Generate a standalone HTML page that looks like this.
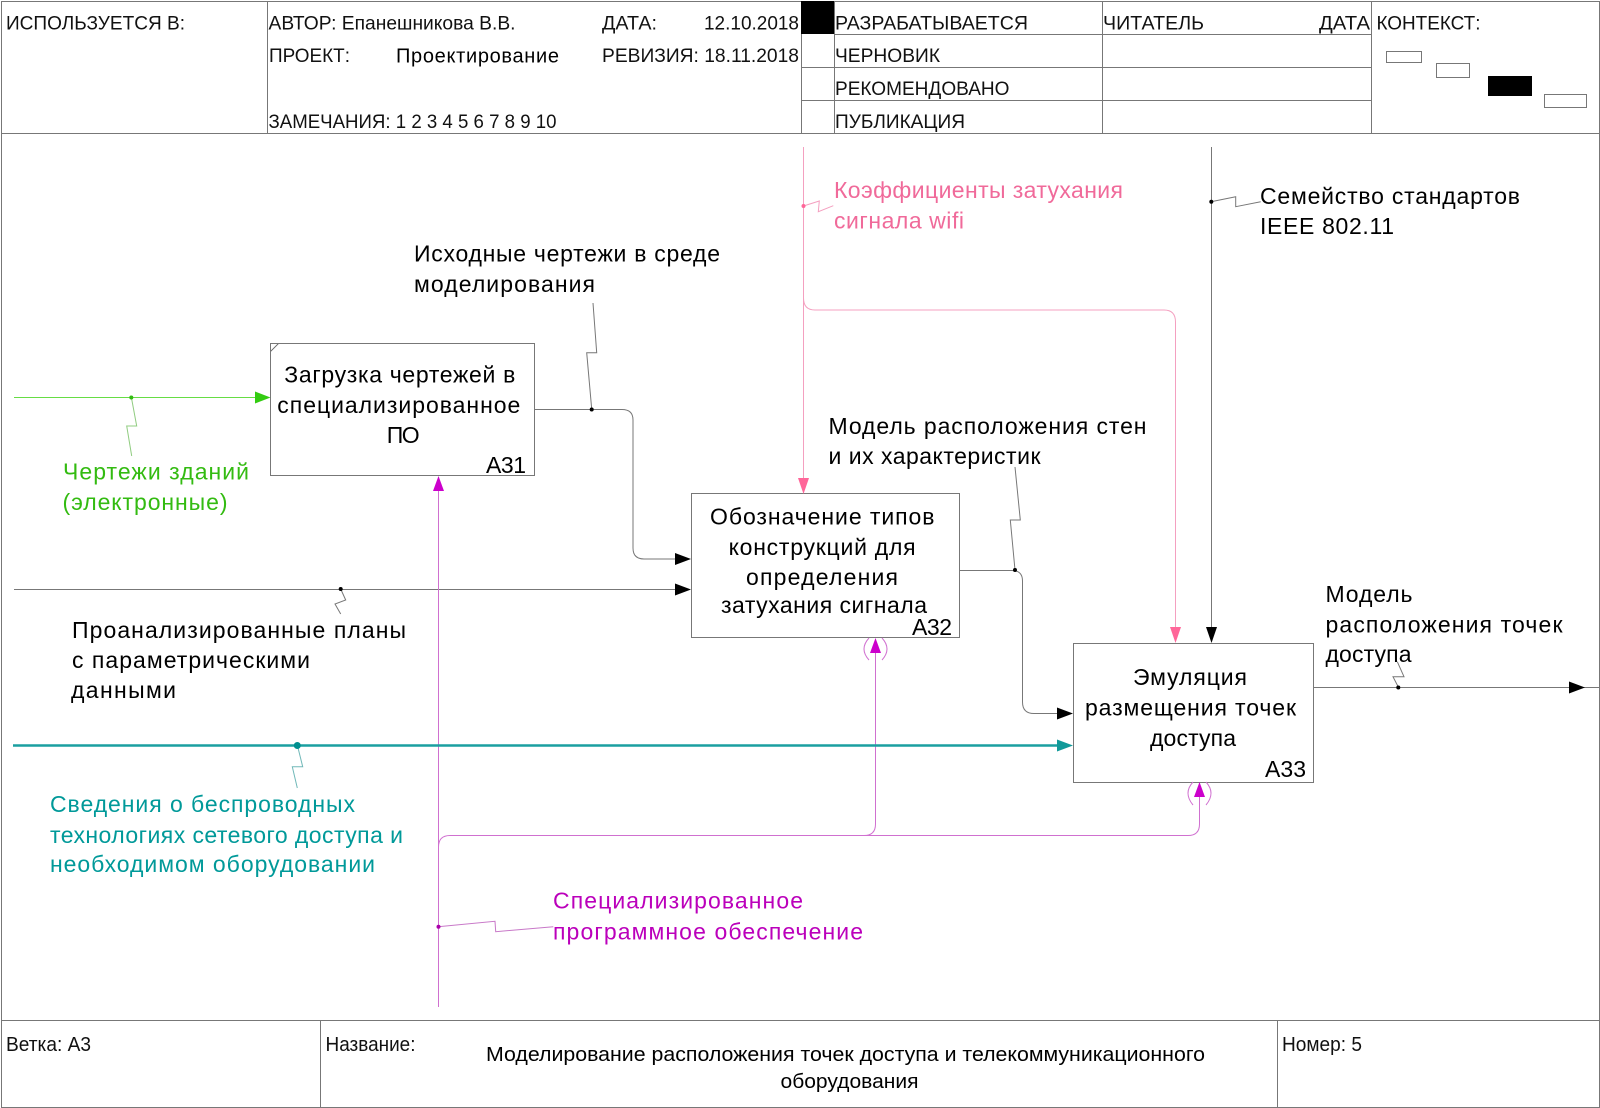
<!DOCTYPE html>
<html><head><meta charset="utf-8"><title>IDEF0 A3</title>
<style>
html,body{margin:0;padding:0;background:#fff;width:1600px;height:1108px;overflow:hidden}
svg{display:block}
text{font-family:"Liberation Sans",Arial,sans-serif;fill:#000}
.h text{font-size:19.5px;fill:#111}
.m text{font-size:23px}
.f text{font-size:20px;fill:#111}
</style></head><body>
<svg width="1600" height="1108" viewBox="0 0 1600 1108" xmlns="http://www.w3.org/2000/svg">
<rect width="1600" height="1108" fill="#fff"/>
<!-- frame -->
<g fill="none" stroke="#777" stroke-width="1" shape-rendering="crispEdges">
<path d="M1.5 1.5H1599.5V1107.5H1.5Z"/>
<path d="M1.5 133.5H1599.5M267.5 1.5V133.5M801.5 1.5V133.5M834.5 1.5V133.5M1102.5 1.5V133.5M1371.5 1.5V133.5"/>
<path d="M834.5 34.5H1371.5M801.5 67.5H1371.5M801.5 100.5H1371.5"/>
<path d="M1.5 1020.5H1599.5M320.5 1020.5V1107.5M1277.5 1020.5V1107.5"/>
<rect x="1386.5" y="51.5" width="35" height="11"/>
<rect x="1436.5" y="63.5" width="33" height="14"/>
<rect x="1544.5" y="94.5" width="42" height="13"/>
<!-- boxes -->
<rect x="270.5" y="343.5" width="264" height="132"/>
<path d="M270.5 351.5L278.5 343.5"/>
<rect x="691.5" y="493.5" width="268" height="144"/>
<rect x="1073.5" y="643.5" width="240" height="139"/>
</g>
<rect x="801" y="1" width="33" height="33" fill="#000"/>
<rect x="1488" y="76" width="44" height="20" fill="#000"/>

<!-- header text -->
<g class="h">
<text x="6" y="29.5" textLength="179" lengthAdjust="spacingAndGlyphs">ИСПОЛЬЗУЕТСЯ В:</text>
<text x="268.5" y="29.5" textLength="247" lengthAdjust="spacingAndGlyphs">АВТОР: Епанешникова В.В.</text>
<text x="602" y="29.5" textLength="55" lengthAdjust="spacingAndGlyphs">ДАТА:</text>
<text x="704" y="29.5" textLength="95" lengthAdjust="spacingAndGlyphs">12.10.2018</text>
<text x="269" y="62" textLength="81" lengthAdjust="spacingAndGlyphs">ПРОЕКТ:</text>
<text x="396" y="62.5" textLength="163" style="fill:#000;font-size:20px">Проектирование</text>
<text x="602" y="62" textLength="197" lengthAdjust="spacingAndGlyphs">РЕВИЗИЯ: 18.11.2018</text>
<text x="268.5" y="128" textLength="288" lengthAdjust="spacingAndGlyphs">ЗАМЕЧАНИЯ: 1 2 3 4 5 6 7 8 9 10</text>
<text x="835" y="29.5" textLength="193" lengthAdjust="spacingAndGlyphs">РАЗРАБАТЫВАЕТСЯ</text>
<text x="1103" y="29.5" textLength="101" lengthAdjust="spacingAndGlyphs">ЧИТАТЕЛЬ</text>
<text x="1319" y="29.5" textLength="51" lengthAdjust="spacingAndGlyphs">ДАТА</text>
<text x="1376.5" y="29.5" textLength="104" lengthAdjust="spacingAndGlyphs">КОНТЕКСТ:</text>
<text x="835" y="62" textLength="105" lengthAdjust="spacingAndGlyphs">ЧЕРНОВИК</text>
<text x="835" y="95" textLength="174.5" lengthAdjust="spacingAndGlyphs">РЕКОМЕНДОВАНО</text>
<text x="835" y="128" textLength="130" lengthAdjust="spacingAndGlyphs">ПУБЛИКАЦИЯ</text>
</g>

<!-- connectors -->
<g fill="none" stroke-width="1">
<!-- green -->
<path d="M14 397.5H256" stroke="#66dd44"/>
<path d="M131.3 397L136.7 426H126.7L131.7 456" stroke="#90cc80"/>
<!-- black input -->
<path d="M14 589.5H676" stroke="#777"/>
<path d="M340.7 589L345.7 600L335 604L340.7 614" stroke="#777"/>
<!-- A31 output -->
<path d="M535 409.5H622Q633 409.5 633 420V548Q633 559 644 559H676" stroke="#777"/>
<path d="M591.7 409L586.7 352.7H596.7L593 303" stroke="#777"/>
<!-- A32 output -->
<path d="M960 570.5H1012Q1022.5 570.5 1022.5 581V702Q1022.5 713.5 1034 713.5H1058" stroke="#777"/>
<path d="M1015 570L1010.3 520H1020.3L1015 467" stroke="#777"/>
<!-- A33 output -->
<path d="M1314 687.5H1599" stroke="#777"/>
<path d="M1398.3 687L1393 676.7H1404L1397.3 661.7" stroke="#777"/>
<!-- black control -->
<path d="M1211.5 147V628" stroke="#777"/>
<path d="M1211 201.7L1235.7 196.7V206.7L1260.7 201.7" stroke="#777"/>
<!-- pink -->
<path d="M803.5 147V479" stroke="#f4a0c0"/>
<path d="M803.5 298Q803.5 310 815 310H1164Q1175.5 310 1175.5 322V628" stroke="#f4a0c0"/>
<path d="M803.5 206L819.3 201L818.3 211.7L833.3 205.7" stroke="#f4a0c0"/>
<!-- magenta -->
<path d="M438.5 490V1007" stroke="#d070d0"/>
<path d="M438.5 847Q438.5 835.5 450 835.5H864Q875.5 835.5 875.5 824V652" stroke="#d070d0"/>
<path d="M864 835.5H1188Q1199.5 835.5 1199.5 824V796" stroke="#d070d0"/>
<path d="M438 926.7L495 921.3L495.7 931.7L553.3 926.7" stroke="#c878c8"/>
<path d="M869 638Q859 649 869 660M882 638Q892 649 882 660" stroke="#d070d0"/>
<path d="M1193 782Q1183 793 1193 805M1206 782Q1216 793 1206 805" stroke="#d070d0"/>
<!-- teal -->
<path d="M13 745.5H1058" stroke="#1a9fa0" stroke-width="2.4"/>
<path d="M297.3 745L302.7 766.7H292.3L297.3 788" stroke="#70b8b8"/>
</g>
<!-- arrowheads -->
<polygon points="270.5,397.5 255,391.5 255,403.5" fill="#33cc11"/>
<polygon points="691,589.5 675,583.5 675,595.5" fill="#000"/>
<polygon points="691,559 675,553 675,565" fill="#000"/>
<polygon points="1073,713.5 1057,707.5 1057,719.5" fill="#000"/>
<polygon points="1073,745.5 1057,739.5 1057,751.5" fill="#119999"/>
<polygon points="1585,687.5 1569,681.5 1569,693.5" fill="#000"/>
<polygon points="1211.5,643 1206,627 1217,627" fill="#000"/>
<polygon points="1175.5,643 1170,627 1181,627" fill="#ff6699"/>
<polygon points="803.5,494 798,478 809,478" fill="#ff6699"/>
<polygon points="438.5,476 433,491 444,491" fill="#cc00cc"/>
<polygon points="875.5,638 870,653 881,653" fill="#cc00cc"/>
<polygon points="1199.5,782 1194,797 1205,797" fill="#cc00cc"/>
<!-- dots -->
<circle cx="131.3" cy="397.5" r="2" fill="#33bb11"/>
<circle cx="340.7" cy="589" r="2" fill="#000"/>
<circle cx="591.7" cy="409.5" r="2" fill="#000"/>
<circle cx="1015" cy="570" r="2" fill="#000"/>
<circle cx="1398.3" cy="687.5" r="2" fill="#000"/>
<circle cx="1211.3" cy="201.7" r="2" fill="#000"/>
<circle cx="803.5" cy="206" r="2" fill="#ff6699"/>
<circle cx="438.5" cy="926.7" r="2" fill="#aa00aa"/>
<circle cx="297.3" cy="745.5" r="3.5" fill="#008f8f"/>

<!-- box text -->
<g class="m">
<text x="284.3" y="382.5" textLength="231">Загрузка чертежей в</text>
<text x="277.3" y="413" textLength="243">специализированное</text>
<text x="386.7" y="443" textLength="33">ПО</text>
<text x="486" y="473" textLength="40">А31</text>
<text x="710" y="524.5" textLength="224.5">Обозначение типов</text>
<text x="728.6" y="555" textLength="187">конструкций для</text>
<text x="746" y="585" textLength="152">определения</text>
<text x="721" y="613" textLength="206">затухания сигнала</text>
<text x="912" y="635" textLength="40">А32</text>
<text x="1133" y="685" textLength="114">Эмуляция</text>
<text x="1085" y="715.5" textLength="211">размещения точек</text>
<text x="1150" y="746" textLength="86">доступа</text>
<text x="1265" y="777" textLength="41">А33</text>

<text x="414" y="261.5" textLength="306">Исходные чертежи в среде</text>
<text x="414" y="292" textLength="181">моделирования</text>
<text x="63" y="479.5" textLength="186" style="fill:#33bb11">Чертежи зданий</text>
<text x="62.5" y="510" textLength="165" style="fill:#33bb11">(электронные)</text>
<text x="72" y="638" textLength="334">Проанализированные планы</text>
<text x="72" y="668" textLength="238">с параметрическими</text>
<text x="71" y="698" textLength="105">данными</text>
<text x="50" y="812" textLength="305" style="fill:#009999">Сведения о беспроводных</text>
<text x="50" y="843" textLength="353" style="fill:#009999">технологиях сетевого доступа и</text>
<text x="50" y="872" textLength="325" style="fill:#009999">необходимом оборудовании</text>
<text x="553" y="908.5" textLength="250" style="fill:#bb00bb">Специализированное</text>
<text x="553" y="939.5" textLength="310" style="fill:#bb00bb">программное обеспечение</text>
<text x="834" y="198" textLength="289" style="fill:#f06a9a">Коэффициенты затухания</text>
<text x="834" y="228.5" textLength="130" style="fill:#f06a9a">сигнала wifi</text>
<text x="1260" y="204" textLength="260">Семейство стандартов</text>
<text x="1260" y="234" textLength="134">IEEE 802.11</text>
<text x="828.5" y="434" textLength="318">Модель расположения стен</text>
<text x="828.5" y="464" textLength="212">и их характеристик</text>
<text x="1325.5" y="602" textLength="87">Модель</text>
<text x="1325.5" y="632.5" textLength="237">расположения точек</text>
<text x="1325.5" y="662" textLength="86">доступа</text>
</g>

<!-- footer -->
<g class="f">
<text x="6" y="1051" textLength="85" lengthAdjust="spacingAndGlyphs">Ветка: А3</text>
<text x="325.5" y="1051" textLength="90" lengthAdjust="spacingAndGlyphs">Название:</text>
<text x="1282" y="1051" textLength="80" lengthAdjust="spacingAndGlyphs">Номер: 5</text>
<text x="486" y="1061" textLength="719" lengthAdjust="spacingAndGlyphs" style="fill:#000">Моделирование расположения точек доступа и телекоммуникационного</text>
<text x="780.5" y="1088" textLength="138" lengthAdjust="spacingAndGlyphs" style="fill:#000">оборудования</text>
</g>
</svg>
</body></html>
